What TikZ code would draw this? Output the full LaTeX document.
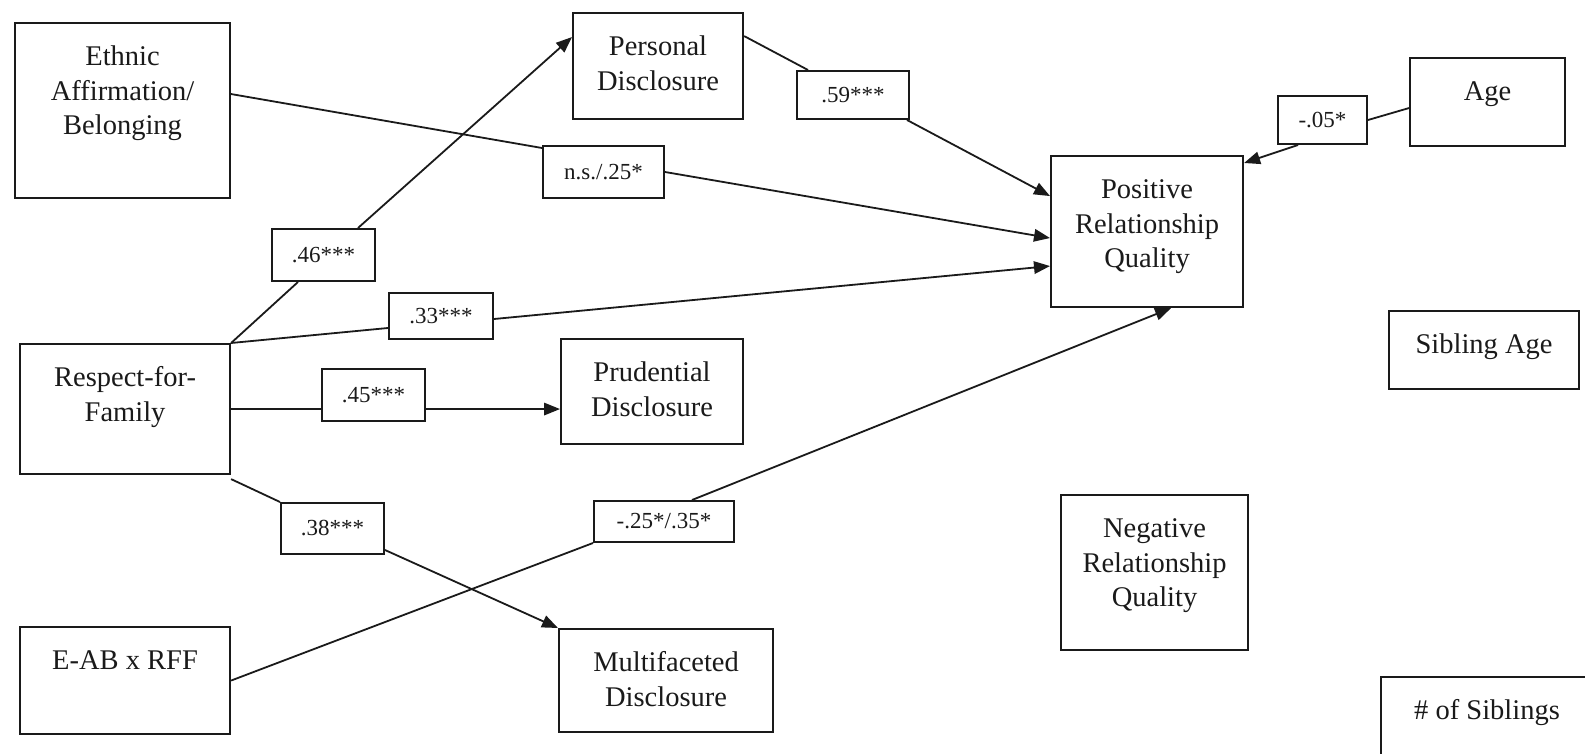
\documentclass[tikz,border=0pt]{standalone}
\usepackage{fontspec}
\setmainfont{Liberation Serif}
\usetikzlibrary{arrows.meta}
\definecolor{ink}{HTML}{1A1A1A}
\begin{document}
\begin{tikzpicture}[x=1pt,y=-1pt,
  box/.style={draw=ink, line width=2.1pt, anchor=north west, inner sep=0pt},
  txt/.style={anchor=north, align=center, inner sep=0pt, text=ink,
              font=\fontsize{28.5}{34.5}\selectfont},
  coef/.style={draw=ink, line width=2pt, anchor=north west, inner sep=0pt,
               text=ink, font=\fontsize{23}{27}\selectfont},
  link/.style={draw=ink, line width=1.8pt},
  arr/.style={link, -{Triangle[length=16pt,width=12.5pt]}},
]
\useasboundingbox (0,0) rectangle (1585,754);

% variable boxes
\node[box, minimum width=215pt, minimum height=175pt] (ethnic)   at (14,22)   {};
\node[box, minimum width=170pt, minimum height=106pt] (personal) at (572,12)  {};
\node[box, minimum width=210pt, minimum height=130pt] (respect)  at (19,343)  {};
\node[box, minimum width=182pt, minimum height=105pt] (prud)     at (560,338) {};
\node[box, minimum width=210pt, minimum height=107pt] (eab)      at (19,626)  {};
\node[box, minimum width=214pt, minimum height=103pt] (multi)    at (558,628) {};
\node[box, minimum width=192pt, minimum height=151pt] (prq)      at (1050,155) {};
\node[box, minimum width=155pt, minimum height=88pt]  (age)      at (1409,57) {};
\node[box, minimum width=190pt, minimum height=78pt]  (sibage)   at (1388,310) {};
\node[box, minimum width=187pt, minimum height=155pt] (neg)      at (1060,494) {};
\node[box, minimum width=212pt, minimum height=100pt] (nsib)     at (1380,676) {};

% box captions, set from the top of each box
\node[txt] (tethnic)   at ([yshift=-19.35pt]ethnic.north)   {\strut Ethnic\\Affirmation/\\Belonging};
\node[txt] (tpersonal) at ([yshift=-19.35pt]personal.north) {\strut Personal\\Disclosure};
\node[txt] (trespect)  at ([yshift=-19.35pt]respect.north)  {\strut Respect-for-\\Family};
\node[txt] (tprud)     at ([yshift=-19.35pt]prud.north)     {\strut Prudential\\Disclosure};
\node[txt] (teab)      at ([yshift=-19.35pt]eab.north)      {\strut E-AB x RFF};
\node[txt] (tmulti)    at ([yshift=-19.35pt]multi.north)    {\strut Multifaceted\\Disclosure};
\node[txt] (tprq)      at ([yshift=-19.35pt]prq.north)      {\strut Positive\\Relationship\\Quality};
\node[txt] (tage)      at ([yshift=-19.35pt]age.north)      {\strut Age};
\node[txt] (tsibage)   at ([yshift=-19.35pt]sibage.north)   {\strut Sibling Age};
\node[txt] (tneg)      at ([yshift=-19.35pt]neg.north)      {\strut Negative\\Relationship\\Quality};
\node[txt] (tnsib)     at ([yshift=-19.35pt]nsib.north)     {\strut \# of Siblings};

% path coefficients
\node[coef, minimum width=103pt, minimum height=52pt] (l46) at (271,228)  {.46***};
\node[coef, minimum width=104pt, minimum height=46pt] (l33) at (388,292)  {.33***};
\node[coef, minimum width=103pt, minimum height=52pt] (l45) at (321,368)  {.45***};
\node[coef, minimum width=103pt, minimum height=51pt] (l38) at (280,502)  {.38***};
\node[coef, minimum width=140pt, minimum height=41pt] (l25) at (593,500)  {-.25*/.35*};
\node[coef, minimum width=121pt, minimum height=52pt] (lns) at (542,145)  {n.s./.25*};
\node[coef, minimum width=112pt, minimum height=48pt] (l59) at (796,70)   {.59***};
\node[coef, minimum width=89pt,  minimum height=48pt] (l05) at (1277,95)  {-.05*};

% paths
\draw[link] ([yshift=16.5pt]ethnic.east) -- ([yshift=-3pt]lns.north west);
\draw[arr]  (lns.east) -- ([yshift=-6.5pt]prq.west);

\draw[link] (respect.north east) -- ([xshift=27pt]l46.south west);
\draw[arr]  ([xshift=87pt]l46.north west) -- ([yshift=29pt]personal.west);

\draw[link] (respect.north east) -- ([yshift=-12pt]l33.west);
\draw[arr]  ([yshift=-3pt]l33.east) -- ([yshift=-34.5pt]prq.west);

\draw[link] (respect.east) -- (respect.east -| l45.west);
\draw[arr]  (respect.east -| l45.east) -- (respect.east -| prud.west);

\draw[link] ([yshift=-4pt]respect.south east) -- (l38.north west);
\draw[arr]  ([yshift=5pt]l38.south east) -- (multi.north west);

\draw[link] (eab.east) -- (l25.south west);
\draw[arr]  ([xshift=28pt]l25.north) -- ([xshift=24pt]prq.south);

\draw[link] ([yshift=30pt]personal.east) -- ([xshift=12pt]l59.north west);
\draw[arr]  ([xshift=-3pt]l59.south east) -- ([yshift=35.5pt]prq.west);

\draw[link] ([yshift=-6pt]age.west) -- (l05.east);
\draw[arr]  ([xshift=21pt]l05.south west) -- ([yshift=-8pt]prq.north east);
\end{tikzpicture}
\end{document}
